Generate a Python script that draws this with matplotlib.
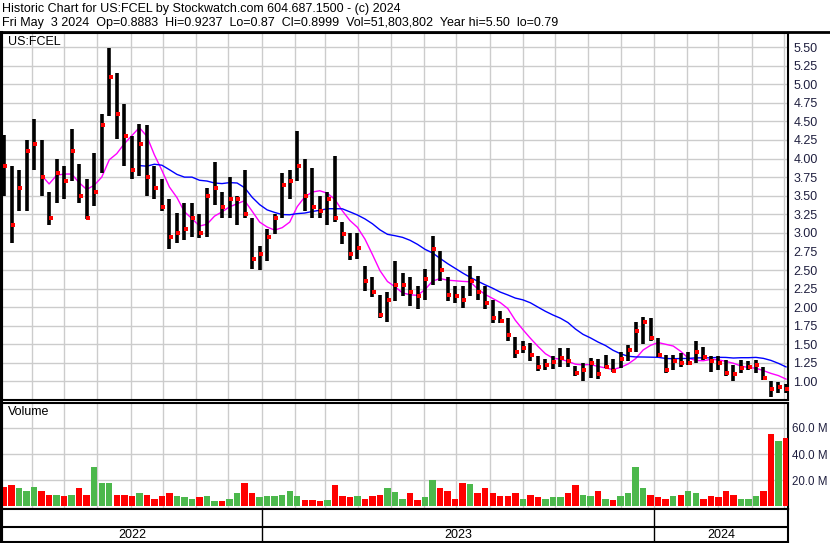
"""
Stockwatch style historic chart for US:FCEL (weekly bars, read off the reference)
"""
import pandas as pd
import matplotlib
matplotlib.use("Agg")
import matplotlib.pyplot as plt
import matplotlib.dates as mdates
from matplotlib.lines import Line2D

plt.rcParams['font.family'] = ['Liberation Sans', 'DejaVu Sans']

title_line1 = "Historic Chart for US:FCEL by Stockwatch.com 604.687.1500 - (c) 2024"
title_line2 = ("Fri May  3 2024  Op=0.8883  Hi=0.9237  Lo=0.87  Cl=0.8999  "
               "Vol=51,803,802  Year hi=5.50  lo=0.79")
symbol = "US:FCEL"

# one bar per week, dated on the Friday
week_ending = pd.date_range("2022-05-06", periods=105, freq="7D")

highs = [4.32, 3.90, 3.85, 4.25, 4.53, 4.25, 3.55, 4.00, 3.90, 4.40,
         3.93, 3.72, 4.08, 4.60, 5.49, 5.15, 4.73, 4.30, 4.47, 4.45,
         3.90, 3.72, 3.45, 3.27, 3.40, 3.40, 3.25, 3.60, 3.96, 3.55,
         3.75, 3.50, 3.85, 3.20, 2.82, 3.05, 3.25, 3.80, 3.85, 4.37,
         4.00, 3.87, 3.50, 3.55, 4.03, 3.15, 3.00, 3.00, 2.56, 2.40,
         2.17, 2.20, 2.62, 2.46, 2.40, 2.28, 2.51, 2.96, 2.75, 2.40,
         2.28, 2.28, 2.55, 2.42, 2.28, 2.10, 1.95, 1.85, 1.60, 1.55,
         1.52, 1.34, 1.30, 1.34, 1.45, 1.45, 1.21, 1.25, 1.32, 1.30,
         1.36, 1.30, 1.40, 1.49, 1.80, 1.87, 1.85, 1.58, 1.35, 1.36,
         1.38, 1.40, 1.54, 1.47, 1.34, 1.34, 1.29, 1.22, 1.29, 1.27,
         1.29, 1.20, 1.01, 0.99, 0.97]
lows = [3.50, 2.87, 3.30, 3.30, 3.85, 3.50, 3.10, 3.40, 3.45, 3.70,
        3.40, 3.18, 3.36, 3.80, 4.57, 4.26, 3.90, 3.72, 3.76, 3.50,
        3.45, 3.30, 2.78, 2.87, 2.90, 2.95, 2.93, 2.95, 3.38, 3.20,
        3.20, 3.10, 3.20, 2.51, 2.50, 2.62, 2.98, 3.20, 3.45, 3.70,
        3.30, 3.20, 3.20, 3.10, 3.15, 2.85, 2.64, 2.65, 2.22, 2.13,
        1.86, 1.80, 2.08, 2.15, 2.02, 1.97, 2.10, 2.30, 2.35, 2.08,
        2.06, 1.99, 2.15, 2.10, 1.97, 1.79, 1.79, 1.55, 1.32, 1.38,
        1.28, 1.14, 1.16, 1.17, 1.20, 1.20, 1.07, 1.00, 1.05, 1.03,
        1.18, 1.13, 1.18, 1.27, 1.40, 1.50, 1.54, 1.33, 1.11, 1.16,
        1.20, 1.22, 1.25, 1.29, 1.13, 1.16, 1.07, 1.00, 1.11, 1.16,
        1.11, 1.02, 0.79, 0.85, 0.84]
closes = [3.90, 3.10, 3.60, 4.10, 4.20, 3.75, 3.20, 3.80, 3.70, 4.10,
          3.50, 3.20, 3.55, 4.45, 5.10, 4.60, 4.30, 3.85, 4.20, 3.75,
          3.60, 3.35, 2.95, 3.00, 3.05, 3.20, 3.00, 3.50, 3.60, 3.35,
          3.45, 3.45, 3.25, 2.65, 2.72, 2.95, 3.20, 3.65, 3.70, 3.90,
          3.50, 3.35, 3.30, 3.45, 3.20, 2.98, 2.72, 2.80, 2.35, 2.20,
          1.90, 2.10, 2.30, 2.30, 2.20, 2.15, 2.38, 2.78, 2.50, 2.17,
          2.15, 2.10, 2.35, 2.20, 2.05, 1.85, 1.82, 1.62, 1.40, 1.45,
          1.35, 1.20, 1.22, 1.26, 1.32, 1.27, 1.12, 1.15, 1.25, 1.10,
          1.20, 1.14, 1.30, 1.42, 1.68, 1.80, 1.58, 1.36, 1.16, 1.28,
          1.25, 1.25, 1.40, 1.33, 1.27, 1.25, 1.12, 1.10, 1.18, 1.20,
          1.22, 1.05, 0.90, 0.92, 0.90]
# typical daily volume for the week, millions of shares
volume_m = [15, 16, 14, 12, 15, 12, 9, 9, 8, 9,
            14, 9, 30, 18, 18, 9, 9, 8, 10, 9,
            6, 8, 10, 8, 7, 6, 7, 8, 4, 4,
            6, 10, 18, 10, 7, 8, 8, 9, 12, 8,
            5, 5, 4, 5, 16, 8, 7, 8, 6, 8,
            9, 14, 11, 6, 10, 5, 7, 20, 14, 12,
            6, 18, 17, 10, 14, 10, 8, 8, 10, 6,
            9, 7, 6, 7, 7, 10, 16, 9, 8, 12,
            6, 5, 8, 10, 30, 14, 9, 7, 6, 8,
            9, 12, 10, 6, 8, 7, 12, 9, 6, 6,
            8, 12, 55, 50, 52]

price_ticks = [1.00, 1.25, 1.50, 1.75, 2.00, 2.25, 2.50, 2.75, 3.00, 3.25,
               3.50, 3.75, 4.00, 4.25, 4.50, 4.75, 5.00, 5.25, 5.50]
volume_ticks = [20, 40, 60]
year_labels = ["2022", "2023", "2024"]
year_starts = ["2023-01-01", "2024-01-01"]

W, H = 830, 543
fig = plt.figure(figsize=(W / 100, H / 100), dpi=100)
fig.patch.set_facecolor("white")


def px_box(x0, y0, x1, y1):
    # pixel rectangle (top-left origin) -> figure fraction
    return [x0 / W, 1 - y1 / H, (x1 - x0) / W, (y1 - y0) / H]


ax = fig.add_axes(px_box(2, 33, 788, 399.5))
axv = fig.add_axes(px_box(2, 403, 788, 509))
axd = fig.add_axes(px_box(2, 509, 788, 542))

dates = mdates.date2num(week_ending)
x_lo = dates[0] - 1.85
x_hi = dates[-1] + 1.85

text_col = "#1f1f3f"
grid_col = "#cccccc"

# price panel
ax.vlines(dates, lows, highs, color="black", lw=2.6, zorder=3)
ax.plot(dates + 1.3, closes, "s", color="red", ms=2.2, mew=0, zorder=4)
ma_fast = pd.Series(closes).rolling(6).mean()
ma_slow = pd.Series(closes).rolling(19).mean()
ax.plot(dates, ma_fast, color="#ff00ff", lw=1.0, zorder=2)
ax.plot(dates, ma_slow, color="#0000ff", lw=1.0, zorder=2)

ax.set_xlim(x_lo, x_hi)
ax.set_ylim(0.757, 5.69)
ax.set_yticks(price_ticks)
ax.set_yticklabels([f"{v:.2f}" for v in price_ticks])
ax.yaxis.tick_right()
ax.xaxis.set_major_locator(mdates.MonthLocator())
ax.set_xticklabels([])
ax.tick_params(length=0, pad=4, labelsize=9, labelcolor=text_col)
ax.grid(True, color=grid_col, lw=1.0)
ax.set_axisbelow(True)
ax.text(6 / 786, 1 - 9 / 366.5, symbol, transform=ax.transAxes,
        fontsize=9, va="center", ha="left", color="black")

# volume panel
vol_cols = ["#ff0000"] + ["#4cb84c" if closes[i] >= closes[i - 1] else "#ff0000"
                          for i in range(1, len(closes))]
axv.bar(dates, volume_m, width=6.0, color=vol_cols, zorder=3)
axv.set_xlim(x_lo, x_hi)
axv.set_ylim(-2, 79)
axv.set_yticks(volume_ticks)
axv.set_yticklabels([f"{v:.1f} M" for v in volume_ticks])
axv.yaxis.tick_right()
axv.xaxis.set_major_locator(mdates.MonthLocator())
axv.set_xticklabels([])
axv.tick_params(length=0, pad=3, labelsize=8.3, labelcolor=text_col)
axv.grid(True, color=grid_col, lw=1.0)
axv.set_axisbelow(True)
axv.text(6 / 786, 1 - 9 / 106, "Volume", transform=axv.transAxes,
         fontsize=9, va="center", ha="left", color="black")

# date strip
axd.set_xlim(x_lo, x_hi)
axd.set_ylim(0, 1)
axd.set_xticks([])
axd.set_yticks([])
axd.axhline(0.46, color="black", lw=1.5)
bounds = [x_lo] + [mdates.datestr2num(d) for d in year_starts] + [x_hi]
for b in bounds[1:-1]:
    axd.axvline(b, color="black", lw=1.0)
for k, lab in enumerate(year_labels):
    axd.text((bounds[k] + bounds[k + 1]) / 2, 0.22, lab, ha="center",
             va="center", fontsize=9, color="black")

for a in (ax, axv, axd):
    for s in a.spines.values():
        s.set_color("black")
        s.set_linewidth(1.5)

# header and outer frame
fig.text(2 / W, 1 - 9 / H, title_line1, fontsize=9, va="center", ha="left")
fig.text(2 / W, 1 - 23 / H, title_line2, fontsize=9, va="center", ha="left")
fig.add_artist(Line2D([0, 1], [1 - 32 / H] * 2, color="black", lw=2))
fig.add_artist(Line2D([1 / W] * 2, [0, 1 - 32 / H], color="black", lw=2.2))

fig.savefig("out.png", dpi=100)
plt.close(fig)
